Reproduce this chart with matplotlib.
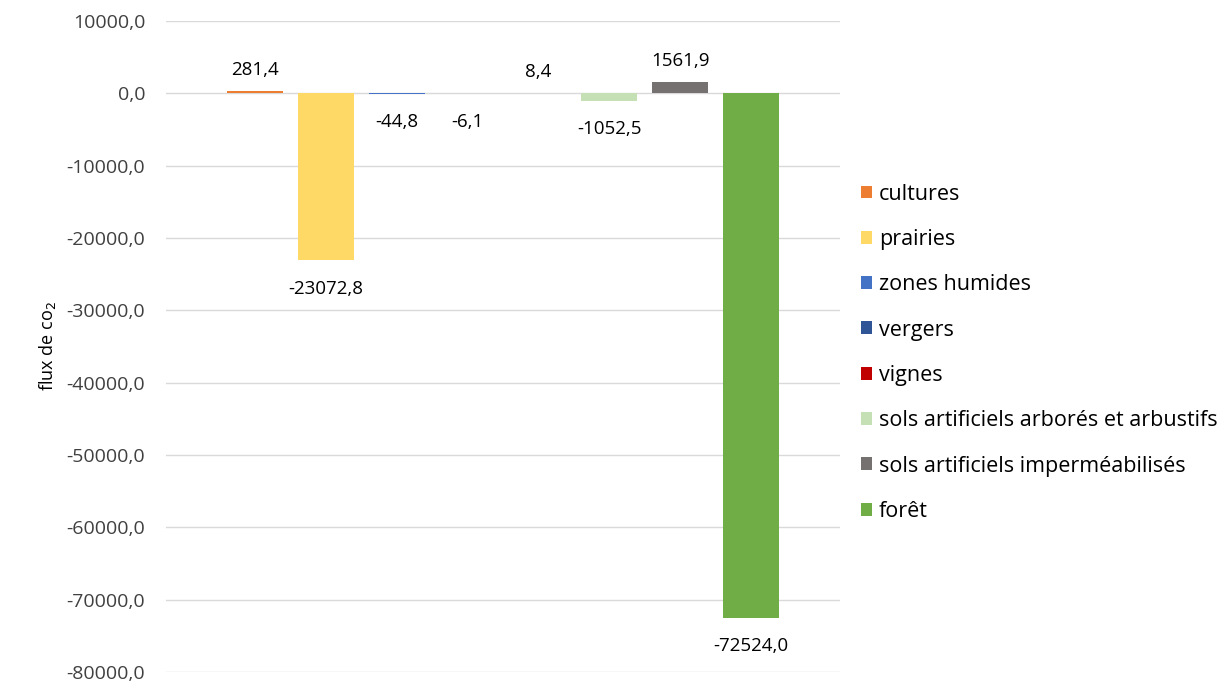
import numpy as np
import matplotlib
matplotlib.use("Agg")
import matplotlib.pyplot as plt

# data
categories = ["cultures", "prairies", "zones humides", "vergers", "vignes",
              "sols artificiels arborés et arbustifs",
              "sols artificiels imperméabilisés", "forêt"]
values = [281.4, -23072.8, -44.8, -6.1, 8.4, -1052.5, 1561.9, -72524.0]
colors = ["#ED7D31", "#FFD966", "#4472C4", "#2F5597", "#C00000",
          "#C5E0B4", "#767171", "#70AD47"]
yticks = np.arange(-80000, 10001, 10000)

plt.rcParams['font.family'] = ['Open Sans', 'DejaVu Sans']

fig = plt.figure(figsize=(12.29, 6.86), dpi=100)
ax = fig.add_axes([0.135, 0.0204, 0.5485, 0.949])

width = 0.79
x = np.arange(len(values))
for i, (v, c, lab) in enumerate(zip(values, colors, categories)):
    ax.bar(x[i], v, width=width, color=c, label=lab, zorder=3, linewidth=0)
    txt = f"{v:.1f}".replace(".", ",")
    if v >= 0:
        ax.annotate(txt, (x[i], v), xytext=(0, 9), textcoords="offset points",
                    ha="center", va="bottom", fontsize=13.5, color="#000000")
    else:
        ax.annotate(txt, (x[i], v), xytext=(0, -14), textcoords="offset points",
                    ha="center", va="top", fontsize=13.5, color="#000000")

ax.set_xlim(-1.255, 8.255)
ax.set_ylim(-80000, 10000)
ax.set_yticks(yticks)
ax.set_yticklabels([f"{t:.1f}".replace(".", ",") for t in yticks], fontsize=14, color="#404040")
ax.set_xticks([])
ax.tick_params(axis="y", length=0, pad=15)
ax.grid(axis="y", color="#D9D9D9", linewidth=1, zorder=0)
for s in ax.spines.values():
    s.set_visible(False)
ax.set_ylabel("flux de co$_2$", fontsize=13, color="#000000", labelpad=6)

fig.legend(loc="upper left", bbox_to_anchor=(852/1229, 1 - 175/686), frameon=False,
           fontsize=15.5, handlelength=0.55, handleheight=0.55, handletextpad=0.3,
           labelspacing=1.13, borderaxespad=0)

fig.savefig("out.png", dpi=100)
